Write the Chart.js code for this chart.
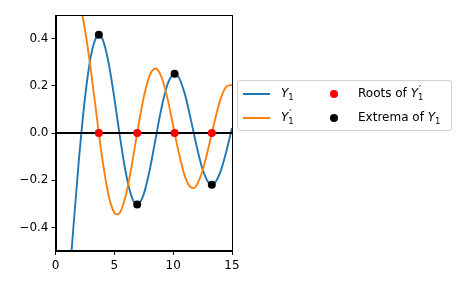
<!DOCTYPE html>
<html lang="en">
<head>
  <meta charset="UTF-8">
  <title>Y1 and its derivative</title>
  <script src="https://cdn.jsdelivr.net/npm/chart.js"></script>
  <style>
    body { margin: 0; background: #fff; font-family: "DejaVu Sans", sans-serif; }
    #wrap { position: relative; width: 465px; height: 288px; }
    #legend {
      position: absolute; left: 237px; top: 80px; width: 215px; height: 51px;
      border: 1px solid #d0d0d0; border-radius: 3px; background: rgba(255,255,255,0.8);
      box-sizing: border-box; font-size: 12px; color: #000;
    }
    .item { position: absolute; height: 14px; line-height: 14px; white-space: nowrap; }
    .ln { position: absolute; width: 27px; height: 2px; }
    .dot { position: absolute; width: 8px; height: 8px; border-radius: 50%; }
    .lbl { position: absolute; }
    sub { font-size: 8.5px; vertical-align: -3px; line-height: 0; }
    .pr { display: inline-block; position: relative; width: 7px; height: 14px; vertical-align: top; }
    .pr .p { position: absolute; left: 1px; top: -3px; font-size: 10px; line-height: 14px; }
    .pr .s { position: absolute; left: 0; top: 4px; font-size: 8.5px; line-height: 14px; }
  </style>
</head>
<body>
  <div id="wrap">
    <canvas id="c" width="465" height="288"></canvas>
    <div id="legend">
      <div class="ln" style="left:5px; top:12px; background:#1f77b4"></div>
      <div class="lbl item" style="left:43px; top:5px"><i>Y</i><sub>1</sub></div>
      <div class="ln" style="left:5px; top:36px; background:#ff7f0e"></div>
      <div class="lbl item" style="left:43px; top:29px"><i>Y</i><span class="pr"><span class="p">′</span><span class="s">1</span></span></div>
      <div class="dot" style="left:92px; top:9px; background:#ff0000"></div>
      <div class="lbl item" style="left:120px; top:5px">Roots of <i>Y</i><span class="pr"><span class="p">′</span><span class="s">1</span></span></div>
      <div class="dot" style="left:92px; top:33px; background:#000"></div>
      <div class="lbl item" style="left:120px; top:29px">Extrema of <i>Y</i><sub>1</sub></div>
    </div>
  </div>
  <script>
    // sample positions and values
    const xs = [0.5, 1, 1.5, 2, 2.5, 3, 3.5, 3.683, 4, 4.5, 5, 5.25, 5.5, 6, 6.5, 6.942, 7, 7.5, 8, 8.5,
                9, 9.5, 10, 10.123, 10.5, 11, 11.5, 11.75, 12, 12.5, 13, 13.285, 13.5, 14, 14.5, 15];
    const y1 = [-1.4715, -0.7812, -0.4123, -0.1070, 0.1459, 0.3247, 0.4102, 0.4168, 0.3979, 0.3010,
                0.1479, 0.0620, -0.0238, -0.1750, -0.2741, -0.3032, -0.3027, -0.2591, -0.1581, -0.0262,
                0.1043, 0.2032, 0.2490, 0.2508, 0.2337, 0.1637, 0.0577, 0.0000, -0.0571, -0.1538,
                -0.2101, -0.2188, -0.2140, -0.1666, -0.0815, 0.0211];
    const dy1 = [2.4985, 0.8695, 0.6573, 0.5639, 0.4397, 0.2687, 0.0718, 0.0, -0.1164, -0.2616,
                 -0.3381, -0.3450, -0.3352, -0.2590, -0.1310, 0.0, 0.0173, 0.1518, 0.2433, 0.2733,
                 0.2383, 0.1498, 0.0308, 0.0, -0.0883, -0.1837, -0.2302, -0.2332, -0.2204, -0.1589,
                 -0.0620, 0.0, 0.0448, 0.1391, 0.1951, 0.2041];
    const rootsX = [3.683, 6.942, 10.123, 13.285];
    const extremaY = [0.4168, -0.3032, 0.2508, -0.2188];
    const xTicks = [0, 5, 10, 15];
    const yTicks = [-0.4, -0.2, 0.0, 0.2, 0.4];

    const pts = (xa, ya) => xa.map((x, i) => ({ x: x, y: ya[i] }));
    const font = { family: 'DejaVu Sans', size: 12 };

    const frame = {
      id: 'frame',
      afterDatasetsDraw(chart) {
        const a = chart.chartArea, ctx = chart.ctx;
        ctx.save();
        ctx.strokeStyle = '#000';
        ctx.lineWidth = 1;
        ctx.strokeRect(Math.round(a.left) + 0.5, Math.round(a.top) + 0.5,
                       Math.round(a.right - a.left) - 1, Math.round(a.bottom - a.top) - 1);
        ctx.restore();
      }
    };

    new Chart(document.getElementById('c'), {
      type: 'line',
      data: {
        datasets: [
          { data: pts(xs, y1), borderColor: '#1f77b4', borderWidth: 1.9, pointRadius: 0,
            cubicInterpolationMode: 'monotone', clip: 0, order: 5 },
          { data: pts(xs, dy1), borderColor: '#ff7f0e', borderWidth: 1.9, pointRadius: 0,
            cubicInterpolationMode: 'monotone', clip: 0, order: 4 },
          { data: [{ x: 0, y: 0 }, { x: 15, y: 0 }], borderColor: '#000', borderWidth: 2,
            pointRadius: 0, clip: 0, order: 3 },
          { data: rootsX.map(x => ({ x: x, y: 0 })), showLine: false, pointRadius: 4,
            pointBackgroundColor: '#ff0000', pointBorderWidth: 0, order: 2 },
          { data: pts(rootsX, extremaY), showLine: false, pointRadius: 4,
            pointBackgroundColor: '#000', pointBorderWidth: 0, order: 1 }
        ]
      },
      options: {
        responsive: false,
        animation: false,
        events: [],
        layout: { padding: { left: 0, top: 15, right: 233, bottom: 0 } },
        plugins: { legend: { display: false }, tooltip: { enabled: false } },
        scales: {
          x: {
            type: 'linear', min: 0, max: 15,
            afterBuildTicks: ax => { ax.ticks = xTicks.map(v => ({ value: v })); },
            afterFit: ax => { ax.height = 37; },
            grid: { drawOnChartArea: false, tickLength: 4, tickColor: '#000' },
            border: { color: '#000', width: 1 },
            ticks: { font: font, color: '#000', padding: 4, maxRotation: 0 }
          },
          y: {
            min: -0.5, max: 0.5,
            afterBuildTicks: ax => { ax.ticks = yTicks.map(v => ({ value: v })); },
            afterFit: ax => { ax.width = 55.5; },
            grid: { drawOnChartArea: false, tickLength: 4, tickColor: '#000' },
            border: { color: '#000', width: 1 },
            ticks: { font: font, color: '#000', padding: 3,
                     callback: v => v.toFixed(1).replace('-', '\u2212') }
          }
        }
      },
      plugins: [frame]
    });
  </script>
</body>
</html>
